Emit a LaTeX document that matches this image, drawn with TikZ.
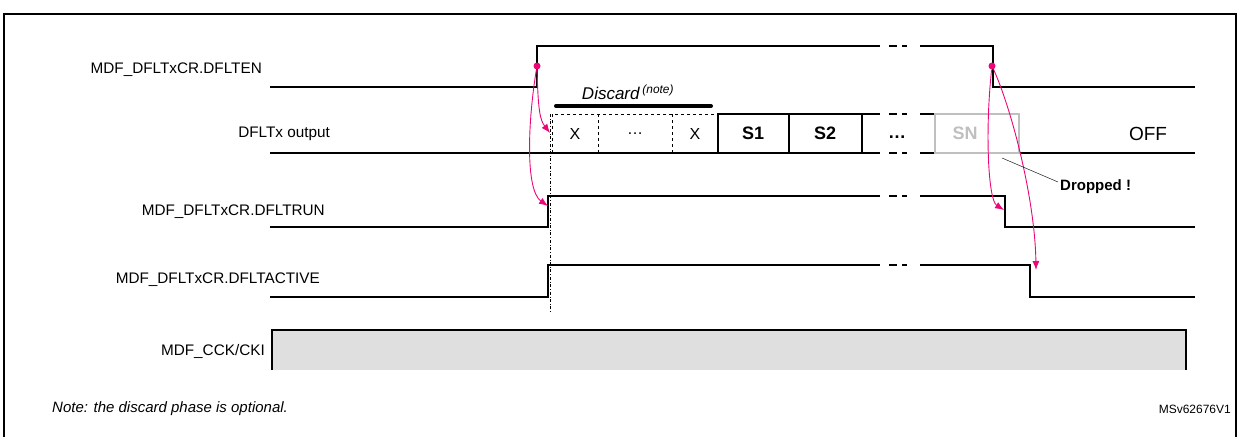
\documentclass[tikz,border=0pt]{standalone}
\usepackage{fontspec}
\setmainfont{Liberation Sans}
\usetikzlibrary{arrows.meta}
\begin{document}
\begin{tikzpicture}[x=1pt,y=-1pt,
  sig/.style={line width=2pt},
  lbl/.style={font=\fontsize{15.3}{17}\selectfont,anchor=east,inner sep=0pt},
  cell/.style={font=\fontsize{16}{18}\selectfont,inner sep=0pt},
  mag/.style={draw=magenta!80!red,line width=0.9pt,-{Latex[length=9pt,width=7pt]}},
  dot/.style={circle,fill=magenta!80!red,inner sep=0pt,minimum size=7pt}]
\useasboundingbox (0,0) rectangle (1238,437);
\draw[line width=1.2pt] (4,437) -- (4,14) -- (1236,14) -- (1236,437);
% labels
\node[lbl] (l1) at (262,70) {MDF\_DFLTxCR.DFLTEN};
\node[lbl] (l2) at (330,134) {DFLTx output};
\node[lbl] (l3) at (325,212) {MDF\_DFLTxCR.DFLTRUN};
\node[lbl] (l4) at (320,280) {MDF\_DFLTxCR.DFLTACTIVE};
\node[lbl] (l5) at (265,351) {MDF\_CCK/CKI};
% DFLTEN
\draw[sig] (270,87) -- (537,87) -- (537,46) -- (880,46);
\draw[sig] (889,46) -- (897,46) (902,46) -- (907,46);
\draw[sig] (920,46) -- (993,46) -- (993,87) -- (1195,87);
% output
\draw[sig] (270,153) -- (880,153) (889,153) -- (897,153) (902,153) -- (907,153) (920,153) -- (1195,153);
\draw[dashed,thin] (552,153) -- (552,114) -- (718,114);
\draw[dashed,thin] (598,114) -- (598,153) (672,114) -- (672,153);
\draw[sig] (718,153) -- (718,114) -- (880,114) (889,114) -- (897,114) (902,114) -- (907,114) (920,114) -- (935,114);
\draw[sig] (789,114) -- (789,153) (862,114) -- (862,153);
\draw[line width=2pt,gray!50] (935,153) rectangle (1019,114);
\node[cell] (x1) at (575,134) {X};
\node[cell] (d1) at (635,134) {\dots};
\node[cell] (x2) at (695,134) {X};
\node[cell,font=\fontsize{18}{20}\selectfont\bfseries] (s1) at (753,133) {S1};
\node[cell,font=\fontsize{18}{20}\selectfont\bfseries] (s2) at (825,133) {S2};
\node[cell,font=\fontsize{18}{20}\selectfont\bfseries] (d2) at (897,137) {\dots};
\node[cell,font=\fontsize{18}{20}\selectfont\bfseries,text=gray!50] (sn) at (965,133) {SN};
\node[cell,font=\fontsize{19}{21}\selectfont] (off) at (1148,134) {OFF};
\draw[line width=4pt,line cap=round] (556,106) -- (711,106);
\node[cell,font=\fontsize{17}{19}\selectfont\itshape] (disc) at (628,92) {Discard\,\textsuperscript{(note)}};
% DFLTRUN
\draw[sig] (270,227) -- (548,227) -- (548,196) -- (880,196) (889,196) -- (897,196) (902,196) -- (907,196) (920,196) -- (1005,196) -- (1005,227) -- (1195,227);
% DFLTACTIVE
\draw[sig] (270,297) -- (548,297) -- (548,265) -- (880,265) (889,265) -- (897,265) (902,265) -- (907,265) (920,265) -- (1030,265) -- (1030,297) -- (1195,297);
% dash-dot
\draw[dash dot,thin] (550,114) -- (550,312);
% CCK
\draw[line width=1.5pt,fill=gray!25] (272,370) -- (272,330) -- (1186,330) -- (1186,370);
% magenta arrows
\node[dot] (e1) at (537,66) {};
\node[dot] (e2) at (992,66) {};
\coordinate (t1) at (550,133);
\coordinate (t2) at (548,206);
\coordinate (t3) at (1004,210);
\coordinate (t4) at (1036,270);
\draw[mag] (e1) .. controls (538,110) and (540,120) .. (t1);
\draw[mag] (e1) .. controls (528,120) and (525,190) .. (t2);
\draw[mag] (e2) .. controls (985,130) and (988,200) .. (t3);
\draw[mag] (e2) .. controls (1012,110) and (1035,200) .. (t4);
% dropped
\coordinate (dp) at (1002,158);
\node[cell,font=\fontsize{15}{17}\selectfont\bfseries,anchor=west] (drop) at (1060,187) {Dropped !};
\draw[thin] (dp) -- (1058,182);
% notes
\node[cell,font=\fontsize{15}{17}\selectfont\itshape,anchor=west] (note) at (52,409) {Note: the discard phase is optional.};
\node[cell,font=\fontsize{12}{14}\selectfont,anchor=east] (ms) at (1231,409) {MSv62676V1};
\end{tikzpicture}
\end{document}
